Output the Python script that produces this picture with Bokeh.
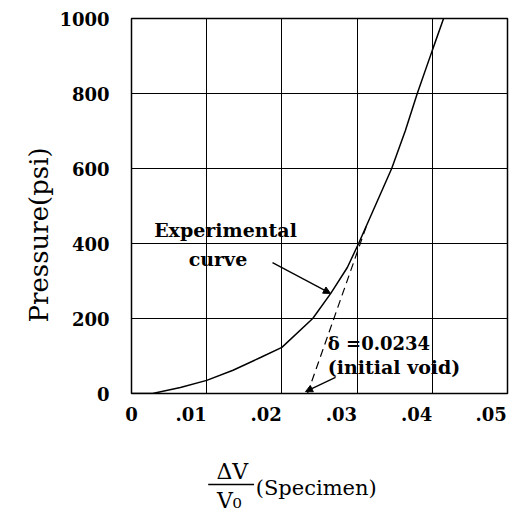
from bokeh.plotting import figure
from bokeh.models import Label, Arrow, NormalHead, FixedTicker, Title
from bokeh.layouts import column
from bokeh.core.properties import value
from bokeh.embed import file_html
from bokeh.resources import INLINE

# Experimental curve
vol_strain = [0, 0.0028, 0.0065, 0.010, 0.0135, 0.01715, 0.020, 0.0241, 0.0265,
              0.0287, 0.0302, 0.0324, 0.0346, 0.0364, 0.0380, 0.0400, 0.0415]
pressure = [0, 0, 16, 35, 62, 96, 123, 200, 267, 336, 400, 500, 600, 700, 800, 915, 1000]

# Dashed extrapolation to the initial void
void_x = [0.0234, 0.0313]
void_p = [0, 450]

x_ticks = [0, 0.01, 0.02, 0.03, 0.04, 0.05]
x_tick_labels = ["0", ".01", ".02", ".03", ".04", ".05"]
y_ticks = [0, 200, 400, 600, 800, 1000]
y_tick_labels = ["0", "200", "400", "600", "800", "1000"]

SERIF = "DejaVu Serif"

p = figure(width=510, height=433, x_range=(0, 0.05), y_range=(0, 1000),
           output_backend="svg", toolbar_location=None,
           min_border_left=131, min_border_right=3, min_border_top=18,
           min_border_bottom=40)
p.background_fill_color = "white"
p.border_fill_color = "white"
p.outline_line_color = "black"
p.outline_line_width = 1.5


def right_pad(lbl, last=False):
    # invisible trailing padding so the centred label ends at its tick
    if lbl == "0":
        return lbl
    if last:
        return lbl + "\u2009"
    pad = "".join("\u2008" if c == "." else "\u2007" for c in lbl)
    return lbl + pad


p.xaxis.ticker = FixedTicker(ticks=x_ticks)
p.yaxis.ticker = FixedTicker(ticks=y_ticks)
p.xaxis.major_label_overrides = {
    t: right_pad(l, i == len(x_ticks) - 1)
    for i, (t, l) in enumerate(zip(x_ticks, x_tick_labels))
}
p.yaxis.major_label_overrides = dict(zip(y_ticks, y_tick_labels))
for ax in (p.xaxis, p.yaxis):
    ax.axis_line_color = None
    ax.major_tick_line_color = None
    ax.minor_tick_line_color = None
    ax.major_label_text_font = SERIF
    ax.major_label_text_font_style = "bold"
    ax.major_label_text_font_size = "18px"
    ax.major_label_text_color = "black"
p.xaxis.major_label_standoff = 4
p.yaxis.major_label_standoff = 16

p.xgrid.ticker = FixedTicker(ticks=x_ticks)
p.ygrid.ticker = FixedTicker(ticks=y_ticks)
for g in (p.xgrid, p.ygrid):
    g.grid_line_color = "black"
    g.grid_line_width = 1
    g.grid_line_alpha = 1

p.line(vol_strain, pressure, line_color="black", line_width=1.5)
p.line(void_x, void_p, line_color="black", line_width=1.2, line_dash="8 5")


def lab(text, x, y, size, style="bold", align="left"):
    p.add_layout(Label(x=x, y=y, text=text, text_font=SERIF, text_font_size=size,
                       text_font_style=style, text_align=align,
                       text_baseline="alphabetic", text_color="black"))


lab("Experimental", 0.0125, 435, "19px", "bold", "center")
lab("curve", 0.0115, 360, "19px", "bold", "center")
lab("\u03b4 =0.0234", 0.0261, 134, "18px", "bold")
lab("(initial void)", 0.0261, 72, "19px", "bold")

p.add_layout(Arrow(end=NormalHead(size=7, fill_color="black", line_color="black"),
                   x_start=0.01875, y_start=349, x_end=0.02646, y_end=267,
                   line_color="black", line_width=1.3))
p.add_layout(Arrow(end=NormalHead(size=7, fill_color="black", line_color="black"),
                   x_start=0.02713, y_start=43, x_end=0.02314, y_end=5,
                   line_color="black", line_width=1.3))

# y-axis title
p.add_layout(Title(text="Pressure(psi)", align="left", offset=71, standoff=6,
                   text_font=SERIF, text_font_size="26px", text_font_style="normal",
                   text_color="black"), "left")

# x-axis title strip (shares the x scale of the chart)
q = figure(width=510, height=81, x_range=p.x_range, y_range=(0, 81),
           output_backend="svg", toolbar_location=None,
           x_axis_location=None, y_axis_location=None,
           min_border_left=131, min_border_right=3, min_border_top=0,
           min_border_bottom=0)
q.grid.visible = False
q.outline_line_color = None
q.background_fill_color = "white"
q.border_fill_color = "white"


def qtext(text, x, y, size, align):
    q.text(x=[x], y=[y], text=[text], text_font=value(SERIF),
           text_font_size=value(size), text_align=align,
           text_baseline="alphabetic", text_color="black")


qtext("\u0394V", 0.01340, 43, "22px", "center")
q.segment(x0=[0.0102], y0=[30], x1=[0.0163], y1=[30], line_color="black", line_width=1.3)
qtext("V\u2080", 0.01300, 14, "22px", "center")
qtext("(Specimen)", 0.01652, 27, "21px", "left")

layout = column(p, q, spacing=0)
open("out.html", "w").write(file_html(layout, INLINE))
